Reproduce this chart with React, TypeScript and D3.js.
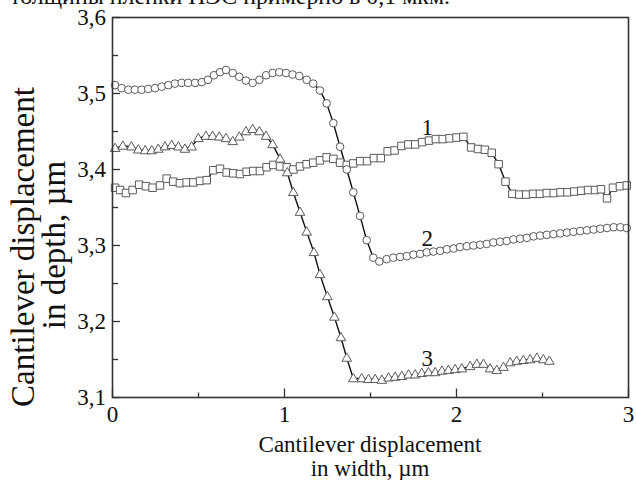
import React from "react";
import * as d3 from "d3";

const W = 636;
const H = 480;

// Series 1 — squares
const series1: [number, number][] = [
  [0.015, 3.376], [0.044, 3.373], [0.078, 3.369], [0.117, 3.373], [0.155, 3.38], [0.194, 3.378],
  [0.233, 3.376], [0.276, 3.379], [0.315, 3.388], [0.353, 3.384], [0.392, 3.382], [0.431, 3.383],
  [0.47, 3.383], [0.509, 3.385], [0.548, 3.386], [0.586, 3.399], [0.625, 3.401], [0.664, 3.396],
  [0.702, 3.395], [0.741, 3.394], [0.78, 3.397], [0.818, 3.398], [0.857, 3.398], [0.896, 3.403],
  [0.935, 3.406], [0.974, 3.404], [1.013, 3.403], [1.052, 3.4], [1.09, 3.404], [1.129, 3.407],
  [1.167, 3.409], [1.206, 3.412], [1.245, 3.416], [1.284, 3.414], [1.323, 3.409], [1.362, 3.406],
  [1.4, 3.408], [1.44, 3.411], [1.48, 3.411], [1.52, 3.415], [1.56, 3.415], [1.6, 3.424],
  [1.64, 3.425], [1.68, 3.431], [1.72, 3.433], [1.76, 3.433], [1.8, 3.436], [1.84, 3.438],
  [1.88, 3.44], [1.92, 3.44], [1.96, 3.441], [2.0, 3.442], [2.04, 3.443], [2.085, 3.429],
  [2.125, 3.427], [2.165, 3.426], [2.205, 3.422], [2.245, 3.407], [2.285, 3.384], [2.325, 3.368],
  [2.365, 3.367], [2.405, 3.367], [2.445, 3.368], [2.485, 3.368], [2.525, 3.369], [2.565, 3.369],
  [2.605, 3.37], [2.645, 3.37], [2.685, 3.371], [2.725, 3.372], [2.765, 3.373], [2.805, 3.373],
  [2.84, 3.374], [2.875, 3.362], [2.91, 3.376], [2.95, 3.378], [2.99, 3.379],
];

// Series 2 — circles
const series2: [number, number][] = [
  [0.015, 3.511], [0.053, 3.507], [0.092, 3.505], [0.13, 3.505], [0.169, 3.505], [0.208, 3.506],
  [0.247, 3.507], [0.286, 3.509], [0.325, 3.511], [0.363, 3.513], [0.402, 3.514], [0.44, 3.514],
  [0.48, 3.514], [0.519, 3.515], [0.555, 3.518], [0.59, 3.524], [0.625, 3.528], [0.66, 3.531],
  [0.699, 3.527], [0.737, 3.522], [0.776, 3.517], [0.815, 3.514], [0.854, 3.518], [0.893, 3.524],
  [0.931, 3.527], [0.97, 3.528], [1.009, 3.527], [1.047, 3.525], [1.086, 3.523], [1.129, 3.518],
  [1.167, 3.513], [1.206, 3.504], [1.245, 3.487], [1.284, 3.461], [1.323, 3.43], [1.362, 3.4],
  [1.4, 3.37], [1.439, 3.339], [1.478, 3.307], [1.516, 3.284], [1.551, 3.279], [1.594, 3.282],
  [1.633, 3.284], [1.672, 3.285], [1.711, 3.286], [1.75, 3.288], [1.789, 3.289], [1.827, 3.291],
  [1.866, 3.292], [1.905, 3.293], [1.944, 3.295], [1.983, 3.296], [2.02, 3.298], [2.06, 3.299],
  [2.098, 3.3], [2.137, 3.301], [2.176, 3.302], [2.214, 3.304], [2.253, 3.305], [2.292, 3.306],
  [2.331, 3.308], [2.37, 3.309], [2.409, 3.31], [2.448, 3.312], [2.486, 3.313], [2.525, 3.314],
  [2.564, 3.315], [2.603, 3.316], [2.642, 3.317], [2.68, 3.318], [2.719, 3.319], [2.758, 3.32],
  [2.797, 3.321], [2.836, 3.322], [2.875, 3.323], [2.914, 3.324], [2.953, 3.324], [2.99, 3.323],
];

// Series 3 — triangles
const series3: [number, number][] = [
  [0.015, 3.428], [0.06, 3.431], [0.11, 3.43], [0.15, 3.426], [0.19, 3.425], [0.228, 3.425],
  [0.266, 3.427], [0.305, 3.43], [0.344, 3.432], [0.383, 3.43], [0.421, 3.427], [0.46, 3.43],
  [0.499, 3.441], [0.543, 3.444], [0.582, 3.444], [0.621, 3.443], [0.66, 3.441], [0.699, 3.437],
  [0.737, 3.443], [0.776, 3.45], [0.815, 3.453], [0.854, 3.45], [0.893, 3.444], [0.931, 3.433],
  [0.974, 3.414], [1.016, 3.396], [1.051, 3.37], [1.09, 3.344], [1.129, 3.318], [1.171, 3.291],
  [1.206, 3.262], [1.249, 3.233], [1.29, 3.206], [1.328, 3.179], [1.362, 3.152], [1.4, 3.125],
  [1.449, 3.125], [1.488, 3.124], [1.527, 3.124], [1.566, 3.123], [1.605, 3.126], [1.643, 3.127],
  [1.682, 3.128], [1.721, 3.13], [1.76, 3.13], [1.798, 3.132], [1.837, 3.133], [1.876, 3.133],
  [1.915, 3.135], [1.953, 3.136], [1.992, 3.137], [2.031, 3.138], [2.079, 3.141], [2.118, 3.144],
  [2.157, 3.144], [2.195, 3.138], [2.234, 3.136], [2.273, 3.14], [2.312, 3.146], [2.35, 3.148],
  [2.389, 3.149], [2.428, 3.15], [2.467, 3.152], [2.505, 3.15], [2.54, 3.148],
];

const xMajorTicks = [0, 1, 2, 3];
const xMinorTicks = [0.5, 1.5, 2.5];
const yMajorTicks = [3.1, 3.2, 3.3, 3.4, 3.5, 3.6];
const yMinorTicks = [3.15, 3.25, 3.35, 3.45, 3.55];
const curveLabels = [
  { text: "1", x: 1.83, y: 3.445 },
  { text: "2", x: 1.83, y: 3.3 },
  { text: "3", x: 1.83, y: 3.141 },
];

const topText = "толщины пленки ПЭС примерно в 0,1 мкм.";
const xTitle = ["Cantilever displacement", "in width, µm"];
const yTitle = ["Cantilever displacement", "in depth, µm"];

const fmt = (v: number) => v.toFixed(1).replace(".", ",");

export default function App() {
  const x = d3.scaleLinear().domain([0, 3]).range([112.5, 628.5]);
  const y = d3.scaleLinear().domain([3.1, 3.6]).range([397.5, 17.5]);
  const line = d3
    .line<[number, number]>()
    .x((d) => x(d[0]))
    .y((d) => y(d[1]));

  const sq = d3.symbol().type(d3.symbolSquare).size(56)() as string;
  const ci = d3.symbol().type(d3.symbolCircle).size(46)() as string;
  const tr = d3.symbol().type(d3.symbolTriangle).size(40)() as string;

  const font = "'Liberation Serif', 'Times New Roman', serif";
  const mStroke = "#5a5a5a";

  const series = [
    { data: series1, sym: sq, dy: 0 },
    { data: series2, sym: ci, dy: 0 },
    { data: series3, sym: tr, dy: 0.5 },
  ];

  return (
    <svg
      width={W}
      height={H}
      style={{ position: "absolute", left: 0, top: 0, background: "#fff" }}
      fontFamily={font}
    >
      <rect x={0} y={0} width={W} height={H} fill="#fff" />
      <text x={10} y={4} fontSize={23} fill="#111" textLength={440} lengthAdjust="spacingAndGlyphs">
        {topText}
      </text>

      {series.map((s, i) => (
        <path key={"l" + i} d={line(s.data) as string} fill="none" stroke="#111" strokeWidth={1.4} />
      ))}
      {series.map((s, i) => (
        <g key={"m" + i}>
          {s.data.map((d, j) => (
            <path
              key={j}
              d={s.sym}
              transform={`translate(${x(d[0])},${y(d[1]) + s.dy})`}
              fill="#fff"
              stroke={mStroke}
              strokeWidth={1}
            />
          ))}
        </g>
      ))}

      <rect x={112.5} y={17.5} width={516} height={380} fill="none" stroke="#333" strokeWidth={1.6} />

      {xMajorTicks.map((t) => (
        <g key={"xt" + t}>
          <line x1={x(t)} x2={x(t)} y1={397.5} y2={388.5} stroke="#333" strokeWidth={1.3} />
          <text x={x(t)} y={422} fontSize={23} textAnchor="middle" fill="#111">
            {t}
          </text>
        </g>
      ))}
      {xMinorTicks.map((t) => (
        <line key={"xm" + t} x1={x(t)} x2={x(t)} y1={397.5} y2={392.5} stroke="#333" strokeWidth={1.3} />
      ))}
      {yMajorTicks.map((t) => (
        <g key={"yt" + t}>
          <line x1={112.5} x2={120} y1={y(t)} y2={y(t)} stroke="#333" strokeWidth={1.3} />
          <text x={106} y={y(t) + 7.5} fontSize={23} textAnchor="end" fill="#111">
            {fmt(t)}
          </text>
        </g>
      ))}
      {yMinorTicks.map((t) => (
        <line key={"ym" + t} x1={112.5} x2={118} y1={y(t)} y2={y(t)} stroke="#333" strokeWidth={1.3} />
      ))}

      {curveLabels.map((l) => (
        <text key={l.text} x={x(l.x)} y={y(l.y)} fontSize={23} textAnchor="middle" fill="#111">
          {l.text}
        </text>
      ))}

      <text x={370} y={452} fontSize={23} textAnchor="middle" fill="#111">
        {xTitle[0]}
      </text>
      <text x={370} y={476} fontSize={23} textAnchor="middle" fill="#111">
        {xTitle[1]}
      </text>
      <text transform="translate(34,247) rotate(-90)" fontSize={33} textAnchor="middle" fill="#111">
        {yTitle[0]}
      </text>
      <text transform="translate(65,245) rotate(-90)" fontSize={33} textAnchor="middle" fill="#111">
        {yTitle[1]}
      </text>
    </svg>
  );
}
